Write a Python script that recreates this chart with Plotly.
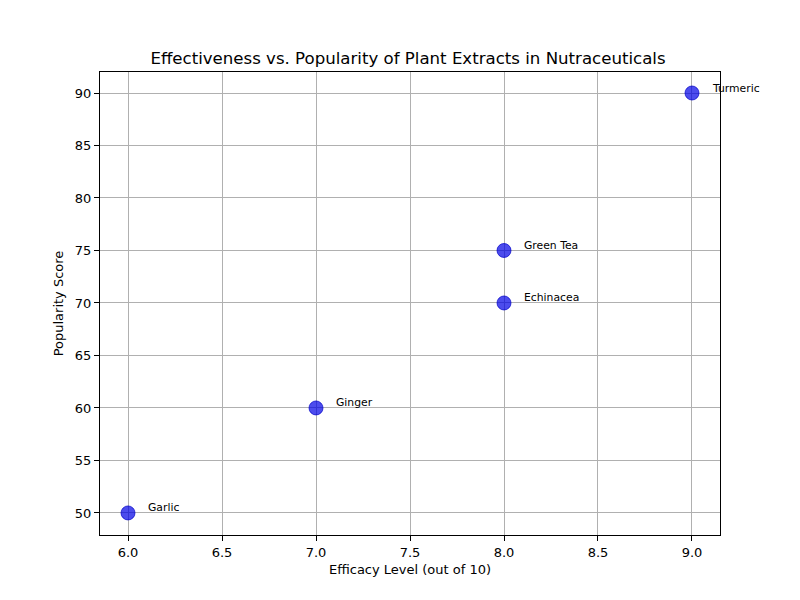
import plotly.graph_objects as go

# Plant extracts: efficacy vs popularity
extracts = ["Turmeric", "Green Tea", "Echinacea", "Ginger", "Garlic"]
efficacy = [9, 8, 8, 7, 6]
popularity = [90, 75, 70, 60, 50]

x_ticks = [6.0, 6.5, 7.0, 7.5, 8.0, 8.5, 9.0]
y_ticks = [50, 55, 60, 65, 70, 75, 80, 85, 90]

fig = go.Figure()

fig.add_trace(go.Scatter(
    x=efficacy, y=popularity,
    mode="markers",
    marker=dict(size=14, color="rgba(0,0,230,0.7)",
                line=dict(width=1, color="rgba(0,0,200,0.7)")),
    hovertemplate="%{x}, %{y}<extra></extra>",
    showlegend=False,
))

for name, xv, yv in zip(extracts, efficacy, popularity):
    fig.add_annotation(
        x=xv, y=yv, text=name, showarrow=False,
        xanchor="left", yanchor="middle",
        xshift=18, yshift=5,
        font=dict(size=10.8, color="black"),
    )

axis_style = dict(
    showline=True, linecolor="black", linewidth=1, mirror=True,
    showgrid=True, gridcolor="#b0b0b0", gridwidth=1,
    zeroline=False,
    ticks="outside", ticklen=5, tickcolor="black",
    tickfont=dict(size=13, color="black"),
)

fig.update_layout(
    width=800, height=600,
    title=dict(text="Effectiveness vs. Popularity of Plant Extracts in Nutraceuticals",
               x=0.5, xanchor="center", y=0.9167, yanchor="middle",
               font=dict(size=16.6, color="black")),
    xaxis=dict(axis_style, range=[5.851, 9.149], tickvals=x_ticks,
               ticktext=[f"{v:.1f}" for v in x_ticks],
               title=dict(text="Efficacy Level (out of 10)", font=dict(size=13, color="black"), standoff=6)),
    yaxis=dict(axis_style, range=[47.9, 92.0], tickvals=y_ticks,
               title=dict(text="Popularity Score", font=dict(size=13, color="black"), standoff=8)),
    paper_bgcolor="white", plot_bgcolor="white",
    font=dict(family="DejaVu Sans", color="black"),
    margin=dict(l=92, r=88, t=64, b=73),
)

fig.write_html("out.html")
